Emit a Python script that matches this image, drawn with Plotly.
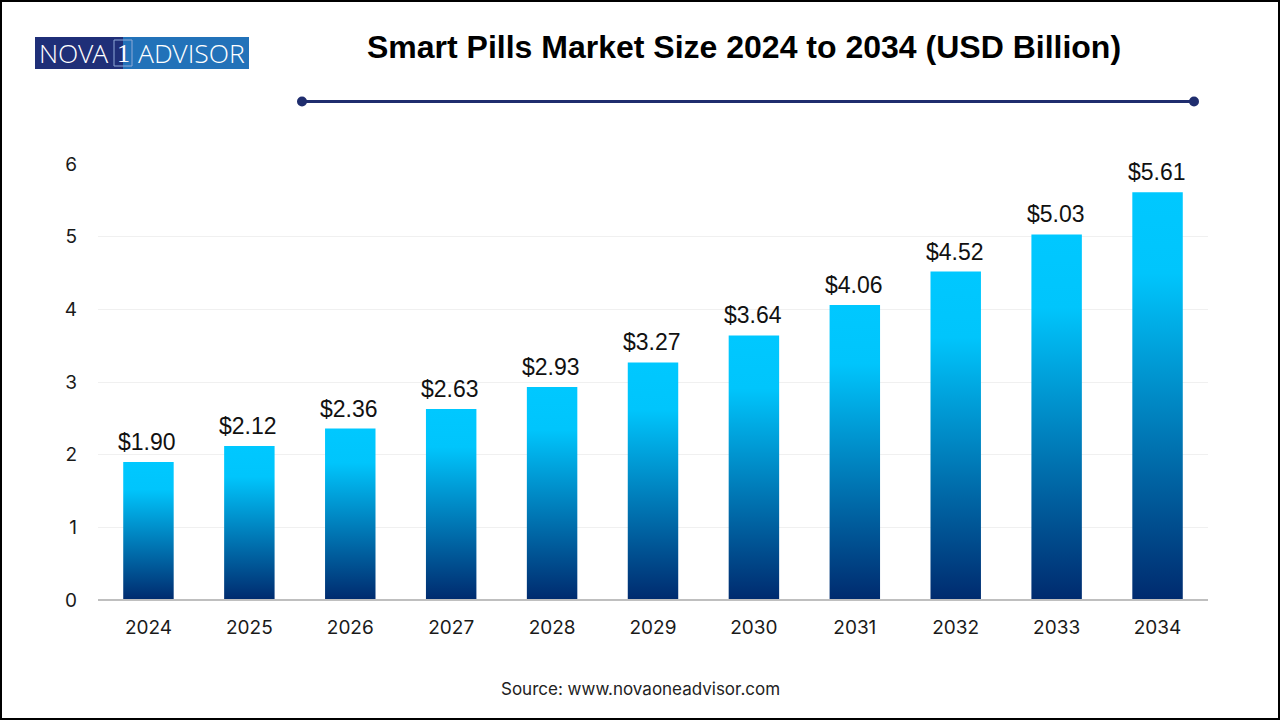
import plotly.graph_objects as go

years = ["2024", "2025", "2026", "2027", "2028", "2029", "2030", "2031", "2032", "2033", "2034"]
values = [1.90, 2.12, 2.36, 2.63, 2.93, 3.27, 3.64, 4.06, 4.52, 5.03, 5.61]
y_ticks = [0, 1, 2, 3, 4, 5, 6]
title_text = "Smart Pills Market Size 2024 to 2034 (USD Billion)"
source_text = "Source: www.novaoneadvisor.com"

W, H = 1280, 720
L, R, T, B = 98, 72, 164, 120
FONT = "Liberation Sans"
TICK_FONT = "Inter"
NAVY = "#1f2d6e"


def px(x):
    return (x - L) / (W - L - R)


def py(y):
    return 1 - (y - T) / (H - T - B)


def rect(x0, y0, x1, y1, fill=None, line=None, width=0):
    return dict(type="rect", xref="paper", yref="paper", layer="above",
                x0=px(x0), y0=py(y0), x1=px(x1), y1=py(y1),
                fillcolor=fill or "rgba(0,0,0,0)",
                line=dict(color=line or "rgba(0,0,0,0)", width=width))


def note(x, y, text, size, color="#000000", family=FONT, anchor="center"):
    return dict(xref="paper", yref="paper", x=px(x), y=py(y), text=text, showarrow=False,
                xanchor=anchor, yanchor="middle", font=dict(size=size, color=color, family=family))


fig = go.Figure(go.Bar(
    x=years, y=values, width=0.5, marker=dict(color="#00c8ff", line=dict(width=0)),
    hoverinfo="skip",
))

shapes = [
    rect(1, 1, 1279, 719, line="#000000", width=2),
    rect(35, 37, 123, 69, fill="#1f2f78"),
    rect(123, 37, 249, 69, fill="#2272b9"),
    rect(114, 40, 132, 66, line="#8fa9d6", width=1),
    dict(type="line", xref="paper", yref="paper", layer="above",
         x0=px(302), x1=px(1194), y0=py(101.5), y1=py(101.5), line=dict(color=NAVY, width=3)),
    dict(type="line", xref="paper", yref="paper", layer="above",
         x0=0, x1=1, y0=0, y1=0, line=dict(color="#bfbfbf", width=2)),
]
for cx in (302, 1194):
    shapes.append(dict(type="circle", xref="paper", yref="paper", layer="above",
                       x0=px(cx - 5), x1=px(cx + 5), y0=py(101.5 - 5), y1=py(101.5 + 5),
                       fillcolor=NAVY, line=dict(width=0)))

annotations = [
    note(744, 47, "<b>%s</b>" % title_text, 32),
    note(640, 689, source_text, 17, color="#222222", family=TICK_FONT),
    note(73.5, 53, "NOVA", 26.5, color="#ffffff", family="Open Sans Light, Open Sans"),
    note(123, 53.5, "1", 26, color="#ffffff", family="Liberation Serif"),
    note(191, 53, "ADVISOR", 26.5, color="#ffffff", family="Open Sans Light, Open Sans"),
]
for i, value in enumerate(values):
    annotations.append(dict(x=i, y=value, xref="x", yref="y", text="$%.2f" % value, showarrow=False,
                            xanchor="center", yanchor="middle", yshift=20, xshift=-1,
                            font=dict(size=23, color="#111111", family=FONT)))

fig.update_layout(
    width=W, height=H, margin=dict(l=L, r=R, t=T, b=B, pad=0), showlegend=False,
    paper_bgcolor="#ffffff", plot_bgcolor="#ffffff", shapes=shapes, annotations=annotations,
    font=dict(family=FONT, color="#111111"), bargap=0.5,
    xaxis=dict(type="category", range=[-0.5, len(years) - 0.5], showgrid=False, showline=False,
               ticks="", ticklabelstandoff=14,
               tickfont=dict(size=19, color="#1a1a1a", family=TICK_FONT)),
    yaxis=dict(range=[0, 6], tickvals=y_ticks, showgrid=True, gridcolor="#f0f0f0", gridwidth=1,
               zeroline=False, showline=False, ticks="", ticklabelstandoff=20,
               tickfont=dict(size=19, color="#1a1a1a", family=TICK_FONT)),
)

# Bars have no native gradient fill, so a vertical SVG gradient is attached after drawing.
post = """
document.documentElement.style.margin = '0';
document.body.style.margin = '0';
var svg = document.querySelector('.main-svg');
var ns = 'http://www.w3.org/2000/svg';
var defs = svg.querySelector('defs') || svg.insertBefore(document.createElementNS(ns, 'defs'), svg.firstChild);
var g = document.createElementNS(ns, 'linearGradient');
g.setAttribute('id', 'barfade');
g.setAttribute('x1', '0'); g.setAttribute('y1', '0'); g.setAttribute('x2', '0'); g.setAttribute('y2', '1');
[[0, '#00c8ff'], [0.2, '#00c5fc'], [1, '#002a6e']].forEach(function (s) {
  var st = document.createElementNS(ns, 'stop');
  st.setAttribute('offset', s[0]); st.setAttribute('stop-color', s[1]);
  g.appendChild(st);
});
defs.appendChild(g);
document.querySelectorAll('.bars .point path').forEach(function (p) {
  p.style.fill = 'url(#barfade)';
});
"""

fig.write_html("out.html", post_script=post, config={"displayModeBar": False})
